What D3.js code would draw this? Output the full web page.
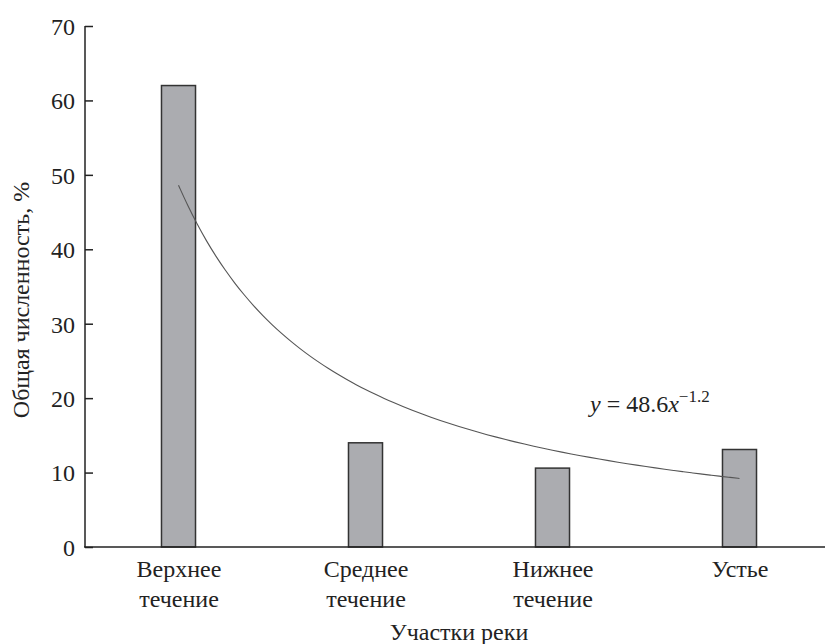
<!DOCTYPE html>
<html><head><meta charset="utf-8">
<script src="https://cdn.jsdelivr.net/npm/d3@7"></script>
<style>body{margin:0;background:#fff}svg{display:block}</style>
</head><body><svg id="c" width="825" height="644" font-family="Liberation Serif" font-size="24"></svg>
<script>
const categories = [["Верхнее","течение"],["Среднее","течение"],["Нижнее","течение"],["Устье"]];
const values = [62, 14, 10.6, 13.1];
const yTicks = [0,10,20,30,40,50,60,70];
const fitA = 48.6, fitB = -1.2;
const fitX = d3.range(1, 4.0001, 0.05);

const svg = d3.select("#c");
const x = d3.scalePoint().domain(d3.range(categories.length)).range([85, 833]).padding(0.5);
const y = d3.scaleLinear().domain([0,70]).range([547, 26]);
const bw = x.step()*0.182;

svg.selectAll("rect.bar").data(values).join("rect")
  .attr("x",(d,i)=>x(i)-bw/2).attr("y",d=>y(d))
  .attr("width",bw).attr("height",d=>y(0)-y(d))
  .attr("fill","#abacb0").attr("stroke","#333").attr("stroke-width",1.5);

const xc = d3.scaleLinear().domain([1,4]).range([x(0), x(3)]);
svg.append("path").datum(fitX)
  .attr("d", d3.line().x(d=>xc(d)).y(d=>y(fitA*Math.pow(d,fitB))).curve(d3.curveBasis))
  .attr("fill","none").attr("stroke","#555").attr("stroke-width",1.1);

// y axis
const ya = svg.append("g").attr("transform","translate(85,0)")
  .call(d3.axisRight(y).tickValues(yTicks).tickSize(8).tickFormat(d3.format("d")));
ya.attr("font-family",null).attr("font-size",null).attr("text-anchor",null);
ya.select(".domain").attr("d","M0,"+y(70)+"V"+y(0)).attr("stroke","#222").attr("stroke-width",1.5);
ya.selectAll(".tick line").attr("stroke","#222").attr("stroke-width",1.5);
ya.selectAll(".tick text").attr("x",-10).attr("dy","0.35em").attr("text-anchor","end").attr("fill","#222");

// x axis
const xa = svg.append("g").attr("transform","translate(0,"+y(0)+")")
  .call(d3.axisBottom(x).tickSize(0).tickFormat(""));
xa.attr("font-family",null).attr("font-size",null);
xa.selectAll(".tick text").remove();
xa.select(".domain").attr("d","M84,0H833").attr("stroke","#222").attr("stroke-width",1.5);
xa.selectAll(".tick").each(function(d){
  categories[d].forEach((s,k)=>d3.select(this).append("text").attr("x",0).attr("y",30+k*30)
    .attr("text-anchor","middle").attr("fill","#222").text(s));
});

svg.append("text").attr("x",(85+833)/2).attr("y",640).attr("text-anchor","middle").attr("fill","#222").text("Участки реки");
svg.append("text").attr("transform","translate(29,300) rotate(-90)").attr("text-anchor","middle").attr("fill","#222")
  .text("Общая численность, %");

const eq = svg.append("text").attr("x",590).attr("y",412).attr("fill","#222");
eq.append("tspan").attr("font-style","italic").text("y");
eq.append("tspan").text(" = 48.6");
eq.append("tspan").attr("font-style","italic").text("x");
eq.append("tspan").attr("dy",-10).attr("font-size","17").text("−1.2");
</script></body></html>
